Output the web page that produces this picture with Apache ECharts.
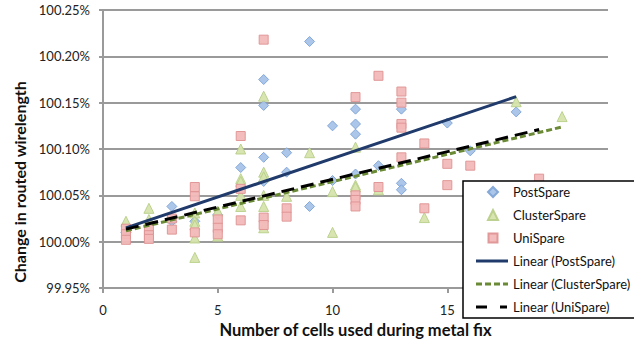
<!DOCTYPE html>
<html><head><meta charset="utf-8">
<script src="https://cdn.jsdelivr.net/npm/echarts@6/dist/echarts.min.js"></script>
<style>html,body{margin:0;padding:0;background:#fff}#c{width:634px;height:343px}</style>
</head><body><div id="c"></div>
<script>
// Data: [cells used, change in routed wirelength (%)]
const postSpare = [
  [1,100.010],[3,100.038],[3,100.022],[4,100.022],[5,100.029],[6,100.080],
  [7,100.175],[7,100.147],[7,100.091],[7,100.065],[8,100.096],[8,100.075],
  [9,100.216],[9,100.038],[10,100.125],[10,100.066],[11,100.143],[11,100.127],
  [11,100.116],[11,100.073],[12,100.082],[13,100.143],[13,100.063],[13,100.056],
  [15,100.128],[16,100.098],[18,100.140]
];
const clusterSpare = [
  [1,100.022],[2,100.036],[2,100.024],[4,100.031],[4,100.022],[4,100.018],
  [4,100.004],[4,99.983],[5,100.033],[5,100.006],[6,100.100],[6,100.068],
  [6,100.065],[6,100.050],[6,100.038],[7,100.157],[7,100.075],[7,100.070],
  [7,100.050],[7,100.038],[7,100.015],[8,100.049],[9,100.096],[10,100.054],
  [10,100.010],[11,100.102],[11,100.061],[11,100.059],[12,100.056],[14,100.026],
  [18,100.151],[20,100.135]
];
const uniSpare = [
  [1,100.014],[1,100.008],[1,100.002],[2,100.013],[2,100.007],[2,100.003],
  [3,100.013],[3,100.025],[4,100.059],[4,100.049],[4,100.010],[5,100.024],
  [5,100.015],[5,100.008],[6,100.114],[6,100.057],[6,100.023],[7,100.218],
  [7,100.026],[7,100.018],[8,100.036],[8,100.027],[11,100.156],[11,100.050],
  [11,100.045],[11,100.038],[12,100.179],[12,100.059],[13,100.162],[13,100.150],
  [13,100.127],[13,100.123],[13,100.091],[14,100.106],[14,100.036],[15,100.084],
  [15,100.061],[16,100.082],[19,100.068]
];
// Linear trendline endpoints
const trendPost = [[1,100.0149],[18,100.1565]];
const trendCluster = [[1,100.0117],[20,100.1238]];
const trendUni = [[1,100.0135],[19,100.121]];

// visible x tick labels (20 is hidden behind the legend in the original)
const xTicks = [0,5,10,15];
const yMin = 99.95, yMax = 100.25, yStep = 0.05;

const FONT = 'Lato';
// legend icons (32x11 frame, extra moveTo points keep the frame size)
const BOX = 'path://M0 0M32 11';
const icons = {
  post: BOX + 'M12 5.5L17 0.5L22 5.5L17 10.5Z',
  cluster: BOX + 'M12 10.5L17 0.5L22 10.5Z',
  uni: BOX + 'M12.5 1H21.5V10H12.5Z',
  lpost: BOX + 'M0 4H32V7H0Z',
  lcluster: BOX + 'M0 4H6V7H0ZM9 4H15V7H9ZM18 4H24V7H18ZM27 4H32V7H27Z',
  luni: BOX + 'M0 4H11V7H0ZM24 4H31V7H24Z'
};

const chart = echarts.init(document.getElementById('c'), null, {renderer:'svg'});
chart.setOption({
  animation:false,
  backgroundColor:'#fff',
  textStyle:{fontFamily:FONT},
  grid:{left:103, right:26, top:10, bottom:52, containLabel:false},
  xAxis:{
    type:'value', min:0, max:22, interval:5,
    name:'Number of cells used during metal fix',
    nameLocation:'middle', nameGap:33,
    nameTextStyle:{fontFamily:FONT, fontWeight:'bold', fontSize:16.5, color:'#111'},
    axisLine:{show:true, onZero:false, lineStyle:{color:'#9a9a9a', width:2}},
    axisTick:{show:true, length:5, lineStyle:{color:'#9a9a9a', width:2}},
    axisLabel:{fontFamily:FONT, fontSize:13, color:'#222', margin:15,
      showMaxLabel:false,
      formatter:v=> xTicks.indexOf(v)>=0 ? String(v) : ''},
    splitLine:{show:false}
  },
  yAxis:{
    type:'value', min:yMin, max:yMax, interval:yStep,
    name:'Change in routed wirelength',
    nameLocation:'middle', nameGap:75,
    nameTextStyle:{fontFamily:FONT, fontWeight:'bold', fontSize:16, color:'#111', padding:[0,66,0,0]},
    axisLine:{show:true, lineStyle:{color:'#9a9a9a', width:2}},
    axisTick:{show:true, length:4, lineStyle:{color:'#9a9a9a', width:2}},
    axisLabel:{fontFamily:FONT, fontSize:13, color:'#222', margin:13,
      formatter:v=> v.toFixed(2)+'%'},
    splitLine:{show:true, lineStyle:{color:'#9a9a9a', width:2}}
  },
  legend:{
    orient:'vertical', left:463, top:181,
    backgroundColor:'#fff', borderColor:'#000', borderWidth:1.5,
    padding:[4,8,4,12], itemGap:9, itemWidth:32, itemHeight:11,
    textStyle:{fontFamily:FONT, fontSize:13, color:'#111', lineHeight:14},
    data:[
      {name:'PostSpare', icon:icons.post},
      {name:'ClusterSpare', icon:icons.cluster},
      {name:'UniSpare', icon:icons.uni},
      {name:'Linear (PostSpare)', icon:icons.lpost, itemStyle:{borderWidth:0}},
      {name:'Linear (ClusterSpare)', icon:icons.lcluster, itemStyle:{borderWidth:0}},
      {name:'Linear (UniSpare)', icon:icons.luni, itemStyle:{borderWidth:0}}
    ]
  },
  series:[
    {name:'PostSpare', type:'scatter', data:postSpare, symbol:'diamond', symbolSize:10,
      itemStyle:{color:'#a7c3e8', borderColor:'#7fa4d6', borderWidth:1, opacity:0.95}},
    {name:'ClusterSpare', type:'scatter', data:clusterSpare, symbol:'triangle', symbolSize:10,
      itemStyle:{color:'#d6e4ad', borderColor:'#b9d08a', borderWidth:1, opacity:0.95}},
    {name:'UniSpare', type:'scatter', data:uniSpare, symbol:'rect', symbolSize:9,
      itemStyle:{color:'#f3b9b9', borderColor:'#df9494', borderWidth:1, opacity:0.95}},
    {name:'Linear (PostSpare)', type:'line', data:trendPost, symbol:'none', showSymbol:false,
      lineStyle:{color:'#1f3a6b', width:3}, itemStyle:{color:'#1f3a6b'}},
    {name:'Linear (ClusterSpare)', type:'line', data:trendCluster, symbol:'none', showSymbol:false,
      lineStyle:{color:'#6b8a35', width:3, type:[6,3]}, itemStyle:{color:'#6b8a35'}},
    {name:'Linear (UniSpare)', type:'line', data:trendUni, symbol:'none', showSymbol:false,
      lineStyle:{color:'#000', width:3, type:[13,7]}, itemStyle:{color:'#000'}}
  ]
});
</script>
</body></html>
